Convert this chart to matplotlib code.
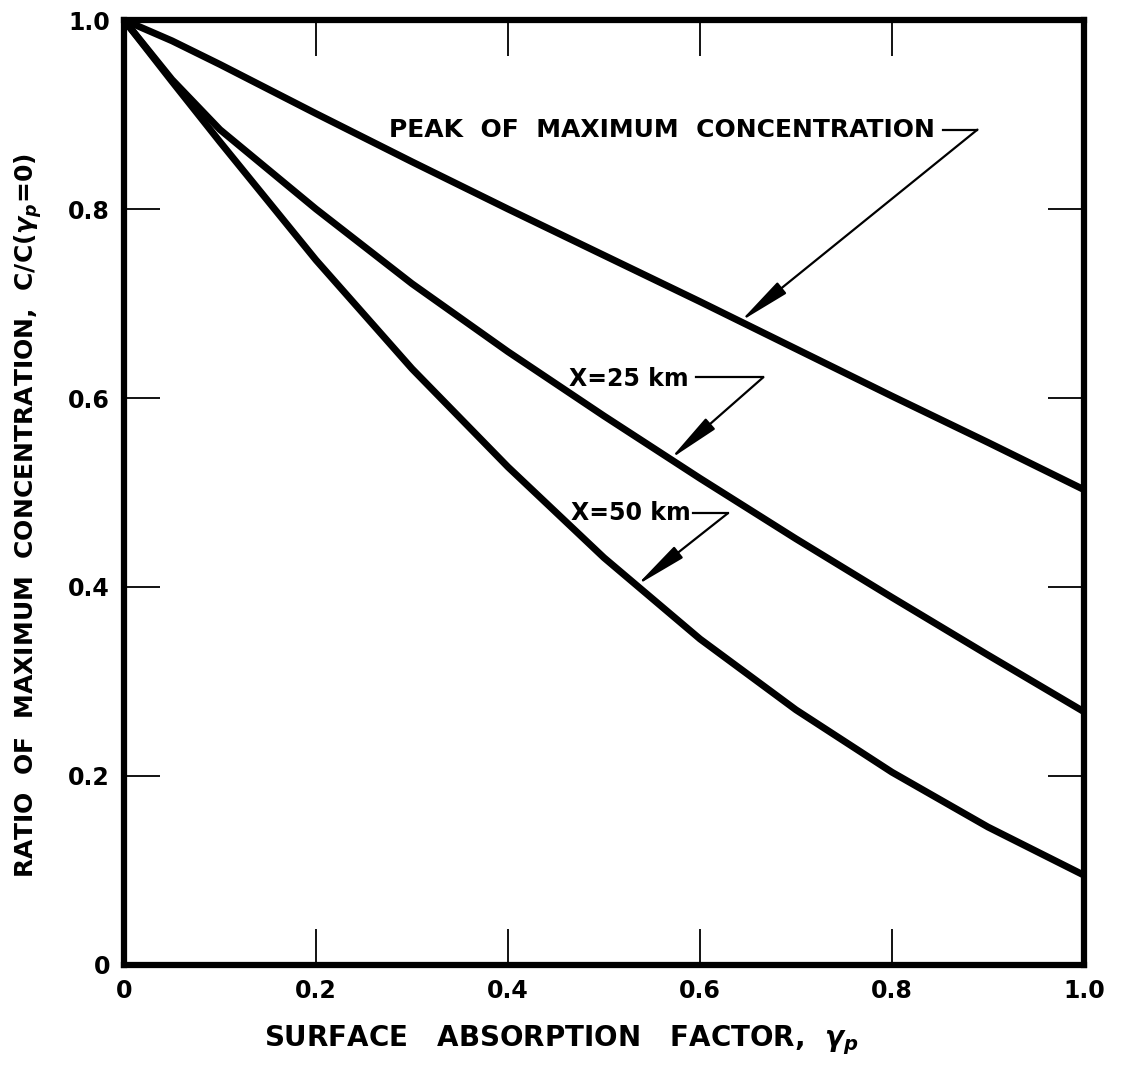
import numpy as np
import matplotlib
matplotlib.use("Agg")
import matplotlib.pyplot as plt

# valeurs
gamma_p = [0.0, 0.05, 0.1, 0.2, 0.3, 0.4, 0.5, 0.6, 0.7, 0.8, 0.9, 1.0]
pic_max = [1.0, 0.978, 0.953, 0.901, 0.850, 0.800, 0.751, 0.702, 0.652, 0.602, 0.553, 0.503]
x_25km = [1.0, 0.937, 0.884, 0.800, 0.721, 0.649, 0.581, 0.515, 0.451, 0.389, 0.328, 0.268]
x_50km = [1.0, 0.935, 0.871, 0.746, 0.631, 0.527, 0.431, 0.345, 0.270, 0.204, 0.146, 0.095]

ticks = [0.0, 0.2, 0.4, 0.6, 0.8, 1.0]
tick_labels = ["0", "0.2", "0.4", "0.6", "0.8", "1.0"]

labels = ["PEAK  OF  MAXIMUM  CONCENTRATION", "X=25 km", "X=50 km"]
courbes = [pic_max, x_25km, x_50km]

plt.rcParams["font.family"] = ["DejaVu Sans"]
plt.rcParams["font.weight"] = "bold"

fig = plt.figure(figsize=(11.22, 10.71), dpi=100)
ax = fig.add_axes([0.1105, 0.099, 0.8556, 0.8823])

for c in courbes:
    ax.plot(gamma_p, c, color="black", lw=5, solid_capstyle="butt",
            solid_joinstyle="round")

# annotations : fin du texte, coin de la ligne, pointe de la fleche
fin_texte = [(0.845, 0.884), (0.588, 0.620), (0.590, 0.478)]
coin = [(0.889, 0.884), (0.666, 0.622), (0.629, 0.478)]
debut_ligne = [0.853, 0.596, 0.593]
pointe_x = [0.642, 0.569, 0.534]
tailles = [18, 17, 17]

for nom, c, ft, co, dl, px, t in zip(labels, courbes, fin_texte, coin, debut_ligne, pointe_x, tailles):
    ax.text(ft[0], ft[1], nom, ha="right", va="center", fontsize=t, fontweight="bold")
    ax.plot([dl, co[0]], [co[1], co[1]], color="black", lw=1.6)
    py = np.interp(px, gamma_p, c)
    ax.annotate("", xy=(px, py), xytext=co,
                arrowprops=dict(arrowstyle="-|>,head_length=1.6,head_width=0.22",
                                color="black", lw=1.6, mutation_scale=20,
                                shrinkA=0, shrinkB=0))

ax.set_xlim(0, 1)
ax.set_ylim(0, 1)
ax.set_xticks(ticks)
ax.set_yticks(ticks)
ax.set_xticklabels(tick_labels)
ax.set_yticklabels(tick_labels)
ax.tick_params(direction="in", length=26, width=1.3, top=True, right=True,
               labelsize=17, pad=10)
for lab in ax.get_xticklabels() + ax.get_yticklabels():
    lab.set_fontweight("bold")
for s in ax.spines.values():
    s.set_linewidth(4.5)

ax.set_xlabel(r"SURFACE   ABSORPTION   FACTOR,  $\gamma_p$", fontsize=20,
              fontweight="bold", va="center")
ax.xaxis.set_label_coords(0.455, -0.08)
ax.set_ylabel(r"RATIO  OF  MAXIMUM  CONCENTRATION,  C/C($\gamma_p$=0)",
              fontsize=18, fontweight="bold", va="center")
ax.yaxis.set_label_coords(-0.1, 0.476)

fig.savefig("out.png", dpi=100)
